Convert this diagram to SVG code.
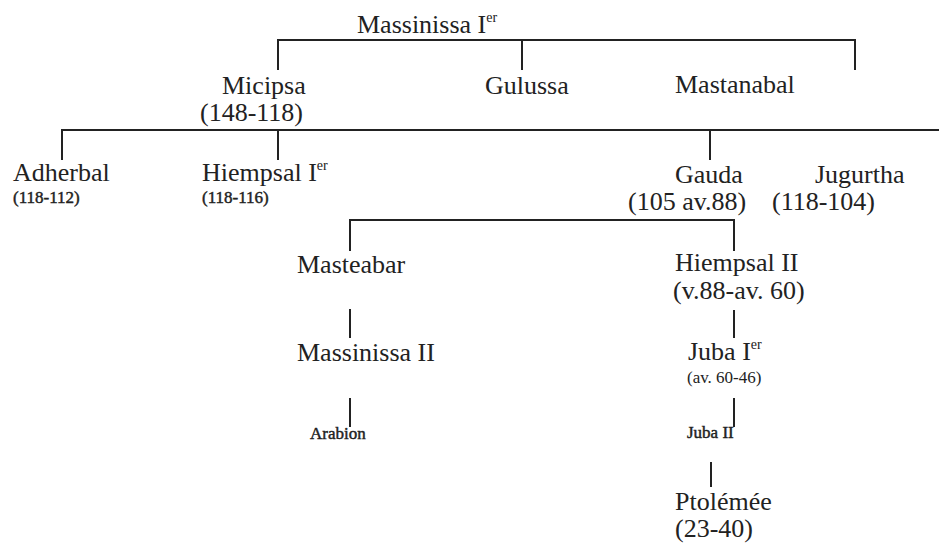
<svg xmlns="http://www.w3.org/2000/svg" width="939" height="544" viewBox="0 0 939 544">
<style>
.t{font-family:"Liberation Serif","Times New Roman",serif;font-size:26px;fill:#222}
.s{font-family:"Liberation Serif","Times New Roman",serif;font-size:17px;fill:#222}
.b{stroke:#222;stroke-width:0.45}
.sup{font-size:14px}
.c line{stroke:#222;stroke-width:2}
</style>
<rect width="939" height="544" fill="#fff"/>
<g class="c" id="connectors">
<line x1="277" y1="40" x2="856" y2="40"/>
<line x1="278" y1="40" x2="278" y2="70"/>
<line x1="522" y1="40" x2="522" y2="70"/>
<line x1="855" y1="40" x2="855" y2="70"/>
<line x1="61" y1="130" x2="939" y2="130"/>
<line x1="62" y1="130" x2="62" y2="160"/>
<line x1="278" y1="130" x2="278" y2="160"/>
<line x1="710" y1="130" x2="710" y2="160"/>
<line x1="349" y1="220" x2="735" y2="220"/>
<line x1="350" y1="220" x2="350" y2="251"/>
<line x1="734" y1="220" x2="734" y2="251"/>
<line x1="350" y1="309" x2="350" y2="338"/>
<line x1="350" y1="398" x2="350" y2="427"/>
<line x1="734" y1="310" x2="734" y2="338"/>
<line x1="734" y1="398" x2="734" y2="427"/>
<line x1="711" y1="462" x2="711" y2="487"/>
</g>
<g id="massinissa1"><text class="t" x="357" y="33">Massinissa I<tspan class="sup" dy="-11">er</tspan></text></g>
<g id="micipsa"><text class="t" x="222" y="94">Micipsa</text><text class="t" x="200" y="121">(148-118)</text></g>
<g id="gulussa"><text class="t" x="485" y="94">Gulussa</text></g>
<g id="mastanabal"><text class="t" x="675" y="93">Mastanabal</text></g>
<g id="adherbal"><text class="t" x="13" y="181">Adherbal</text><text class="s b" x="13" y="203">(118-112)</text></g>
<g id="hiempsal1"><text class="t" x="202" y="181">Hiempsal I<tspan class="sup" dy="-11">er</tspan></text><text class="s b" x="202" y="203">(118-116)</text></g>
<g id="gauda"><text class="t" x="675" y="183">Gauda</text><text class="t" x="628" y="210">(105 av.88)</text></g>
<g id="jugurtha"><text class="t" x="815" y="183">Jugurtha</text><text class="t" x="772" y="210">(118-104)</text></g>
<g id="masteabar"><text class="t" x="297" y="273">Masteabar</text></g>
<g id="hiempsal2"><text class="t" x="675" y="271">Hiempsal II</text><text class="t" x="673" y="299">(v.88-av. 60)</text></g>
<g id="massinissa2"><text class="t" x="297" y="361">Massinissa II</text></g>
<g id="juba1"><text class="t" x="688" y="360">Juba I<tspan class="sup" dy="-11">er</tspan></text><text class="s" x="687" y="383">(av. 60-46)</text></g>
<g id="arabion"><text class="s b" x="310" y="439">Arabion</text></g>
<g id="juba2"><text class="s b" x="687" y="438">Juba II</text></g>
<g id="ptolemee"><text class="t" x="675" y="510">Ptolémée</text><text class="t" x="675" y="537">(23-40)</text></g>
</svg>
